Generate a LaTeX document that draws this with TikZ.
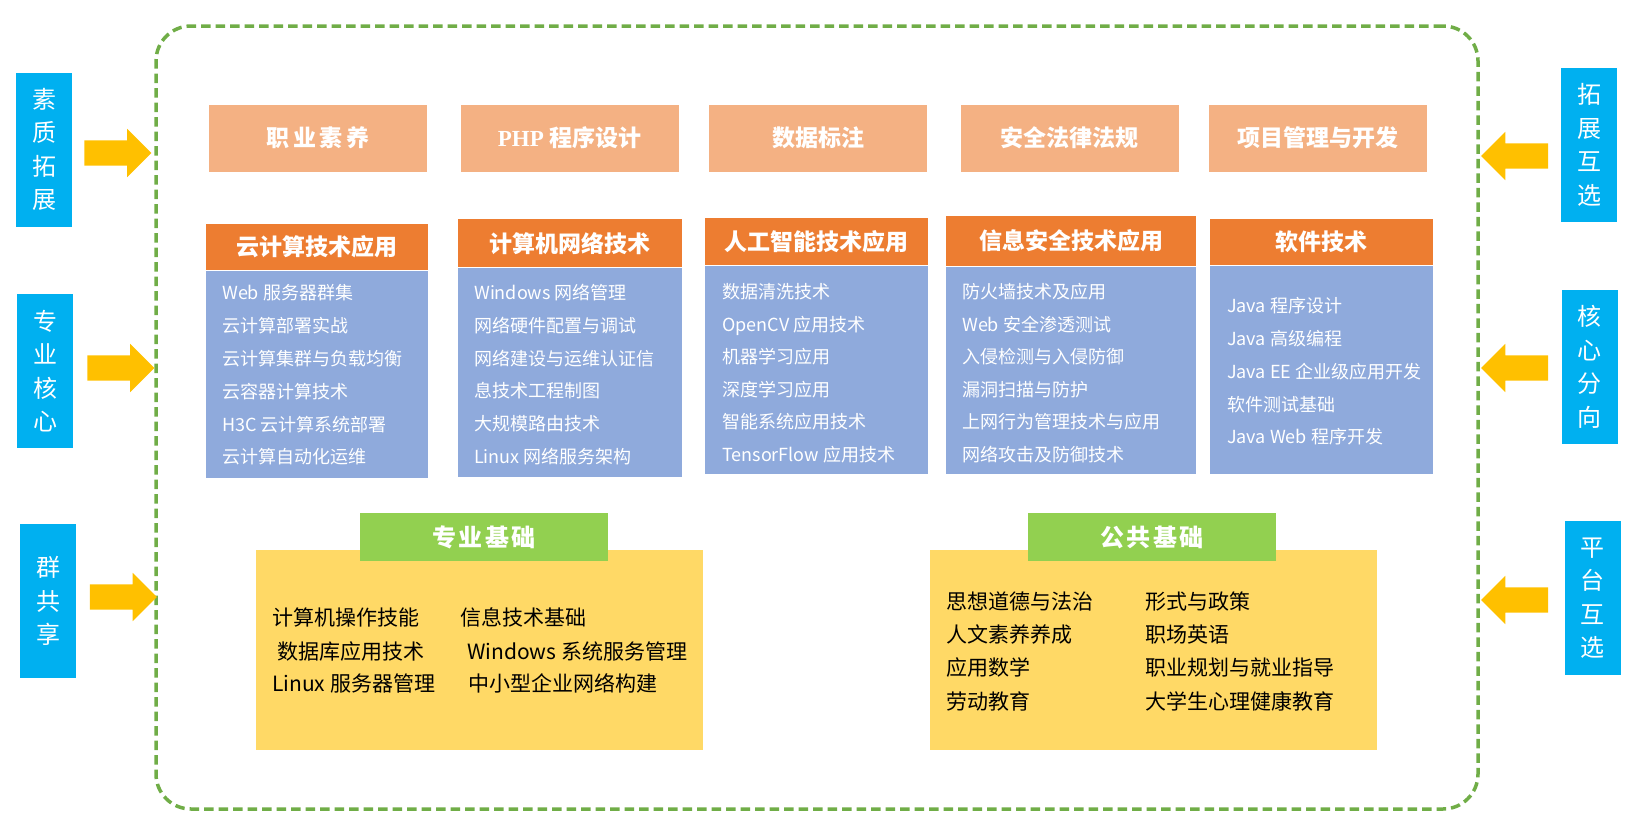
\documentclass[tikz,border=0pt]{standalone}
\usepackage{fontspec}
\setmainfont{Noto Sans CJK SC}
\newfontfamily\phpfont{Liberation Serif}
\usetikzlibrary{shapes.arrows, positioning}
\definecolor{sideblue}{HTML}{00B0F0}
\definecolor{arrowyellow}{HTML}{FFC000}
\definecolor{salmon}{HTML}{F4B183}
\definecolor{headorange}{HTML}{ED7D31}
\definecolor{bodyblue}{HTML}{8FAADC}
\definecolor{basegreen}{HTML}{92D050}
\definecolor{baseyellow}{HTML}{FFD966}
\definecolor{framegreen}{HTML}{70AD47}

\begin{document}
\begin{tikzpicture}[x=1pt, y=-1pt,
    side/.style={fill=sideblue, text=white, minimum width=56pt, minimum height=154pt, inner sep=0pt, align=center, font=\fontsize{24}{33.5}\selectfont},
    bigarrow/.style={single arrow, fill=arrowyellow, minimum height=67pt, minimum width=48pt, single arrow head extend=11.5pt,
        inner xsep=0pt, inner ysep=12.5pt, text height=0pt, text depth=0pt},
    topic/.style={fill=salmon, text=white, minimum width=218pt, minimum height=67pt, inner sep=0pt, font=\fontsize{23}{23}\selectfont\bfseries},
    head/.style={fill=headorange, text=white, inner sep=0pt, anchor=north, font=\fontsize{23}{23}\selectfont\bfseries},
    body/.style={fill=bodyblue, inner sep=0pt, anchor=north},
    item/.style={text=white, anchor=west, inner sep=0pt, text height=15.5pt, text depth=2.5pt, font=\fontsize{18}{18}\selectfont},
    base/.style={fill=baseyellow, minimum width=447pt, minimum height=200pt, inner sep=0pt},
    basehead/.style={fill=basegreen, text=white, minimum width=248pt, minimum height=48pt, inner sep=0pt,
        font=\fontsize{24}{24}\selectfont\bfseries\addfontfeatures{LetterSpace=10}},
    baseitem/.style={anchor=west, inner sep=0pt, text height=18.5pt, text depth=3pt, font=\fontsize{21}{21}\selectfont}]
  \useasboundingbox (0,0) rectangle (1636,835);

  % dashed frame round the course groups
  \node[draw=framegreen, line width=3.5pt, dash pattern=on 9.5pt off 5pt, rounded corners=35pt,
        minimum width=1322pt, minimum height=783pt] (frame) at (817,417.5) {};

  % left labels with arrows into the frame
  \node[side] (sl1) at (44,149.5) {素\\质\\拓\\展};
  \node[side] (sl2) at (45,371)   {专\\业\\核\\心};
  \node[side] (sl3) at (48,601)   {群\\共\\享};
  \node[bigarrow] (al1) at (111.5,153) {};
  \node[bigarrow] (al2) at (114.5,368) {};
  \node[bigarrow] (al3) at (117,597) {};

  % right labels with arrows into the frame
  \node[side] (sr1) at (1589,145)   {拓\\展\\互\\选};
  \node[side] (sr2) at (1589.5,367) {核\\心\\分\\向};
  \node[side] (sr3) at (1592.5,598) {平\\台\\互\\选};
  \foreach \i/\y in {1/156, 2/368, 3/600}
    \node[bigarrow, shape border rotate=180] (ar\i) at (1521,\y) {};

  % extension courses
  \node[topic] (tp1) at (318,138)    {\addfontfeatures{LetterSpace=15}职业素养};
  \node[topic] (tp2) at (569.5,138)  {{\phpfont PHP} 程序设计};
  \node[topic] (tp3) at (818,138)    {数据标注};
  \node[topic] (tp4) at (1069.5,138) {安全法律法规};
  \node[topic] (tp5) at (1317.5,138) {项目管理与开发};

  % core directions: header over body
  \foreach \i/\x/\w/\t/\hh/\bh/\name in {1/317/222/224/46/207/云计算技术应用, 2/570/224/219/48/209/计算机网络技术,
      3/816.5/223/218/47/208/人工智能技术应用, 4/1071/250/216/50/207/信息安全技术应用, 5/1321.5/223/219/46/208/软件技术} {
    \node[head, minimum width=\w pt, minimum height=\hh pt] (hd\i) at (\x,\t) {\name};
    \node[body, minimum width=\w pt, minimum height=\bh pt] (bd\i) at (hd\i.south) {};
  }
  \foreach \s [count=\k] in {Web 服务器群集, 云计算部署实战, 云计算集群与负载均衡, 云容器计算技术, H3C 云计算系统部署, 云计算自动化运维}
    \node[item] (ia\k) at (222, 260.5+32.8*\k) {\s};
  \foreach \s [count=\k] in {Windows 网络管理, 网络硬件配置与调试, 网络建设与运维认证信, 息技术工程制图, 大规模路由技术, Linux 网络服务架构}
    \node[item] (ib\k) at (474, 260.2+32.8*\k) {\s};
  \foreach \s [count=\k] in {数据清洗技术, OpenCV 应用技术, 机器学习应用, 深度学习应用, 智能系统应用技术, TensorFlow 应用技术}
    \node[item] (ic\k) at (722, 259.4+32.6*\k) {\s};
  \foreach \s [count=\k] in {防火墙技术及应用, Web 安全渗透测试, 入侵检测与入侵防御, 漏洞扫描与防护, 上网行为管理技术与应用, 网络攻击及防御技术}
    \node[item] (id\k) at (962, 259.4+32.6*\k) {\s};
  \foreach \s [count=\k] in {Java 程序设计, Java 高级编程, Java EE 企业级应用开发, 软件测试基础, Java Web 程序开发}
    \node[item] (ie\k) at (1227, 273.5+32.75*\k) {\s};

  % professional and public foundations
  \node[base] (zb) at (479.5,650)  {};
  \node[basehead] (zbh) at (484,537) {专业基础};
  \foreach \t/\x/\y [count=\k] in {计算机操作技能/272/618, 信息技术基础/460/618, 数据库应用技术/277/652,
      Windows 系统服务管理/467/652, Linux 服务器管理/272/684, 中小型企业网络构建/468/684}
    \node[baseitem] (zi\k) at (\x,\y) {\t};
  \node[base] (gb) at (1153.5,650) {};
  \node[basehead] (gbh) at (1152,537) {公共基础};
  \foreach \t/\x/\y [count=\k] in {思想道德与法治/946/602, 形式与政策/1145/602, 人文素养养成/946/635, 职场英语/1145/635,
      应用数学/946/668, 职业规划与就业指导/1145/668, 劳动教育/946/702, 大学生心理健康教育/1145/702}
    \node[baseitem] (gi\k) at (\x,\y) {\t};
\end{tikzpicture}
\end{document}
